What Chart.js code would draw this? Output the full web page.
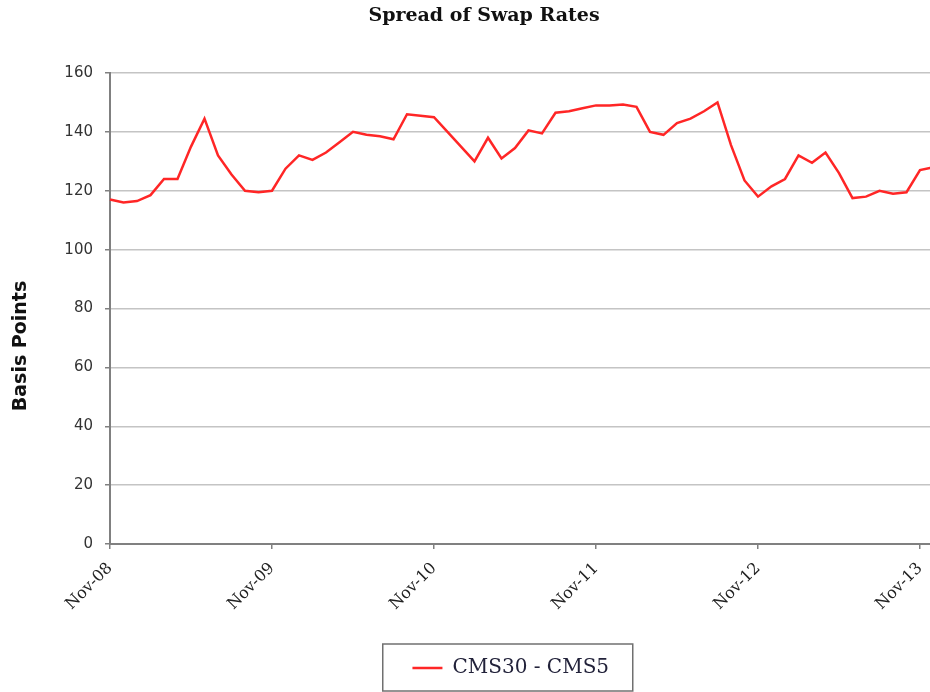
<!DOCTYPE html>
<html>
<head>
<meta charset="utf-8">
<script src="https://cdn.jsdelivr.net/npm/chart.js@4.4.1/dist/chart.umd.min.js"></script>
<style>
  body { margin: 0; background: #fff; overflow: hidden; }
  #wrap { width: 930px; height: 692px; overflow: hidden; }
</style>
</head>
<body>
<div id="wrap"><canvas id="chart1" width="968" height="692"></canvas></div>
<script>
// monthly observations, Nov-08 .. Dec-13
var months = [
  'Nov-08','Dec-08','Jan-09','Feb-09','Mar-09','Apr-09','May-09','Jun-09','Jul-09','Aug-09','Sep-09','Oct-09',
  'Nov-09','Dec-09','Jan-10','Feb-10','Mar-10','Apr-10','May-10','Jun-10','Jul-10','Aug-10','Sep-10','Oct-10',
  'Nov-10','Dec-10','Jan-11','Feb-11','Mar-11','Apr-11','May-11','Jun-11','Jul-11','Aug-11','Sep-11','Oct-11',
  'Nov-11','Dec-11','Jan-12','Feb-12','Mar-12','Apr-12','May-12','Jun-12','Jul-12','Aug-12','Sep-12','Oct-12',
  'Nov-12','Dec-12','Jan-13','Feb-13','Mar-13','Apr-13','May-13','Jun-13','Jul-13','Aug-13','Sep-13','Oct-13',
  'Nov-13','Dec-13'
];
var spread = [
  117, 116, 116.5, 118.5, 124, 124, 135, 144.5, 132, 125.5, 120, 119.5,
  120, 127.5, 132, 130.5, 133, 136.5, 140, 139, 138.5, 137.5, 146, 145.5,
  145, 140, 135, 130, 138, 131, 134.5, 140.5, 139.5, 146.5, 147, 148,
  149, 149, 149.3, 148.5, 140, 139, 143, 144.5, 147, 150, 135.5, 123.5,
  118, 121.5, 124, 132, 129.5, 133, 126, 117.5, 118, 120, 119, 119.5,
  127, 128
];
var yearTicks = ['Nov-08','Nov-09','Nov-10','Nov-11','Nov-12','Nov-13'];
var seriesName = 'CMS30 - CMS5';

// y title, legend nudge + box round the legend
var extras = {
  id: 'extras',
  afterLayout: function(chart) {
    // legend sits a little left of the plot centre in the original
    chart.legend.left -= 11;
    chart.legend.right -= 11;
  },
  afterDraw: function(chart) {
    var ctx = chart.ctx;
    ctx.save();
    ctx.translate(21, chart.height / 2);
    ctx.rotate(-Math.PI / 2);
    ctx.font = 'bold 19px "DejaVu Sans"';
    ctx.fillStyle = '#111';
    ctx.textAlign = 'center';
    ctx.textBaseline = 'middle';
    ctx.fillText('Basis Points', 0, 0);
    ctx.restore();

    var hb = chart.legend.legendHitBoxes[0];
    if (hb) {
      var cx = hb.left + hb.width / 2 - 3;
      ctx.save();
      ctx.strokeStyle = '#707070';
      ctx.lineWidth = 1.5;
      ctx.strokeRect(cx - 125, chart.legend.top - 4, 250, 47);
      ctx.restore();
    }
  }
};

new Chart(document.getElementById('chart1').getContext('2d'), {
  type: 'line',
  data: {
    labels: months,
    datasets: [{
      label: seriesName,
      data: spread,
      borderColor: '#ff2626',
      backgroundColor: '#ff2626',
      borderWidth: 2.5,
      pointRadius: 0,
      tension: 0,
      fill: false
    }]
  },
  options: {
    responsive: false,
    animation: false,
    layout: { padding: { left: 0, right: 0, top: 0, bottom: 4 } },
    plugins: {
      title: {
        display: true,
        text: 'Spread of Swap Rates',
        color: '#111',
        font: { family: '"DejaVu Serif"', size: 19, weight: 'bold' },
        padding: { top: 5, bottom: 45.2 }
      },
      legend: {
        position: 'bottom',
        fullSize: false,
        labels: {
          usePointStyle: true,
          pointStyle: 'line',
          pointStyleWidth: 30,
          padding: 10,
          color: '#22223a',
          font: { family: '"DejaVu Serif"', size: 20 }
        }
      },
      tooltip: { enabled: false }
    },
    scales: {
      x: {
        afterFit: function(scale) {
          scale.height = 104;
          scale.paddingRight = 34.5;
        },
        grid: {
          drawOnChartArea: false,
          tickLength: 5,
          tickColor: '#808080',
          lineWidth: 1.5
        },
        border: { color: '#808080', width: 2 },
        ticks: {
          autoSkip: false,
          minRotation: 45,
          maxRotation: 45,
          padding: 10,
          color: '#222',
          font: { family: '"DejaVu Serif"', size: 16 },
          callback: function(value) {
            var lab = this.getLabelForValue(value);
            return yearTicks.indexOf(lab) >= 0 ? lab : null;
          }
        }
      },
      y: {
        min: 0,
        max: 160,
        afterFit: function(scale) { scale.width = 110; },
        grid: {
          color: '#c4c4c4',
          lineWidth: 1.5,
          tickLength: 5,
          tickColor: '#808080'
        },
        border: { color: '#808080', width: 2 },
        ticks: {
          stepSize: 20,
          padding: 12,
          color: '#333',
          font: { family: '"DejaVu Sans"', size: 15 }
        }
      }
    }
  },
  plugins: [extras]
});
</script>
</body>
</html>
